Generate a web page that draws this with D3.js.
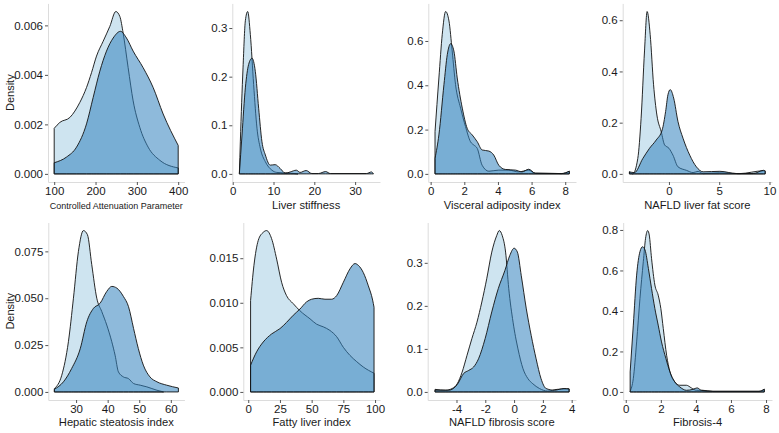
<!DOCTYPE html>
<html>
<head>
<meta charset="utf-8">
<script src="https://cdn.jsdelivr.net/npm/d3@7"></script>
<style>
  body { margin: 0; background: #fff; }
  text { font-family: "Liberation Sans", Arial, sans-serif; }
</style>
</head>
<body>
<div id="chart"></div>
<script>
// density curves, [x, density]; A = light group, B = dark group
var capA = [[100,0.00184],[113.7,0.00208],[137.9,0.00228],[162.1,0.00289],[178.2,0.00349],[190.3,0.00409],[202.4,0.00476],[218.5,0.00536],[234.6,0.00596],[249.1,0.00656],[258.8,0.00636],[266.8,0.00569],[278.9,0.00429],[291,0.00295],[307.1,0.00188],[327.3,0.00108],[355.5,0.00055],[400,0.00024]];
var capB = [[100,0.00045],[129.8,0.00068],[154,0.00108],[178.2,0.00202],[194.3,0.00309],[210.4,0.00415],[226.5,0.00496],[242.7,0.00549],[260.4,0.00576],[274.9,0.00549],[291,0.00496],[315.2,0.00429],[339.4,0.00349],[363.6,0.00242],[400,0.00115]];

var lsA = [[1.63,0],[1.87,0.066],[2.53,0.218],[3.1,0.315],[3.67,0.334],[4.32,0.287],[5.13,0.184],[5.95,0.094],[6.76,0.053],[8.0,0.025],[9.6,0.0076],[10.8,0.003],[14.1,0.0014],[16,0]];
var lsB = [[1.63,0],[2.28,0.08],[3.1,0.177],[3.9,0.225],[4.73,0.238],[5.54,0.211],[6.36,0.135],[7.17,0.066],[8.0,0.039],[9.2,0.018],[10.4,0.019],[11.65,0.011],[12.9,0.0014],[14.1,0.004],[15.6,0.0076],[16.5,0.003],[18,0.0069],[19.4,0.0007],[21,0.0007],[22.8,0.0048],[23.9,0.0007],[32.8,0.0007],[34,0.004],[34.5,0]];

var vaiA = [[0.26,0.191],[0.49,0.433],[0.69,0.63],[0.89,0.733],[1.09,0.69],[1.28,0.555],[1.48,0.403],[1.78,0.297],[2.07,0.214],[2.37,0.145],[2.57,0.13],[2.77,0.115],[3.06,0.039],[3.46,0.012],[4.05,0.017],[4.64,0.017],[5.23,0.009],[5.83,0.017],[6.2,0.003],[7.8,0.0015],[8.24,0.012]];
var vaiB = [[0.26,0.07],[0.49,0.176],[0.79,0.403],[0.99,0.539],[1.19,0.588],[1.38,0.555],[1.58,0.433],[1.88,0.297],[2.17,0.206],[2.47,0.176],[2.77,0.145],[3.06,0.108],[3.46,0.103],[3.75,0.085],[4.05,0.039],[4.44,0.02],[5.04,0.017],[5.43,0.009],[5.83,0.021],[6.22,0.003],[7.8,0.0015],[8.24,0.012]];

var lfsA = [[-3.93,0.008],[-3.6,0],[-3.1,0.06],[-2.77,0.217],[-2.43,0.48],[-2.17,0.634],[-1.87,0.545],[-1.53,0.348],[-1.2,0.23],[-0.77,0.165],[-0.43,0.113],[0,0.1],[0.4,0.073],[0.9,0.0275],[1.73,0.014],[2.4,0.005],[2.9,0.01],[3.4,0.001],[5,0.004],[7,0.001],[9.4,0.012],[9.57,0.01]];
var lfsB = [[-3.93,0.008],[-3.43,0.005],[-2.6,0.06],[-1.93,0.1],[-1.27,0.132],[-0.67,0.172],[-0.33,0.244],[-0.1,0.309],[0.13,0.329],[0.47,0.296],[0.9,0.204],[1.4,0.139],[2.07,0.073],[2.73,0.0275],[3.4,0.008],[5.07,0.01],[6.73,0.0013],[8.4,0.0013],[9.4,0.014],[9.57,0.012]];

var hsiA = [[23.14,0.0018],[25.46,0.0089],[27.57,0.0268],[29.16,0.05],[30.74,0.075],[32.32,0.0861],[33.59,0.0839],[34.96,0.0679],[36.55,0.05],[38.13,0.0429],[39.71,0.0357],[41.3,0.0268],[42.35,0.0196],[43.41,0.0107],[45,0.008],[46.6,0.0071],[48.2,0.0045],[50.3,0.0036],[52.4,0.0027],[55.6,0.0009],[57.7,0]];
var hsiB = [[23.1,0.0014],[26,0.0054],[28.6,0.0125],[31.3,0.023],[33.4,0.0375],[35.5,0.0446],[37.6,0.0473],[39.7,0.0536],[41.3,0.0563],[42.9,0.0554],[45,0.0509],[46.6,0.0455],[48.2,0.0339],[49.7,0.0232],[51.3,0.0143],[53.4,0.008],[55.6,0.0054],[58.7,0.0036],[62.4,0.0021]];

var fliA = [[1.84,0.01026],[4.5,0.0142],[7.9,0.017],[11.8,0.0179],[14.5,0.0181],[18.4,0.0172],[22.4,0.0149],[26.3,0.0123],[30.2,0.0108],[35.5,0.0099],[40.8,0.0091],[48.7,0.0082],[53.9,0.0076],[59.2,0.0073],[64.4,0.0069],[69.7,0.0062],[75,0.005],[80.2,0.0041],[85.5,0.0034],[90.7,0.0028],[99.2,0.0021]];
var fliB = [[1.84,0.003],[6.6,0.0045],[11.8,0.0056],[18.4,0.0065],[25,0.0071],[30.2,0.0078],[35.5,0.0086],[40.8,0.0093],[46,0.0101],[50,0.0104],[55.2,0.0105],[60.5,0.0104],[65.8,0.0104],[69.7,0.0108],[75,0.0123],[80.2,0.0138],[84.2,0.0144],[86.8,0.0142],[90.7,0.0134],[94.7,0.0119],[98.1,0.0103],[99.2,0.0095]];

var nfsA = [[-5.49,0.006],[-4.75,0.004],[-4.3,0.008],[-3.95,0.019],[-3.61,0.046],[-3.27,0.085],[-2.93,0.124],[-2.58,0.162],[-2.24,0.209],[-1.9,0.263],[-1.55,0.325],[-1.21,0.363],[-1.03,0.375],[-0.82,0.363],[-0.59,0.325],[-0.37,0.24],[-0.07,0.162],[0.27,0.1],[0.62,0.054],[0.96,0.031],[1.3,0.019],[1.76,0.008],[2.33,0.002],[3.0,0.006],[3.82,0.007]];
var nfsB = [[-5.49,0.004],[-4.53,0.004],[-3.95,0.017],[-3.5,0.043],[-3.15,0.05],[-2.81,0.058],[-2.47,0.077],[-2.01,0.124],[-1.55,0.186],[-1.1,0.24],[-0.64,0.282],[-0.3,0.317],[0,0.334],[0.23,0.325],[0.5,0.27],[0.85,0.193],[1.19,0.131],[1.53,0.077],[1.87,0.031],[2.22,0.008],[2.79,0.004],[3.47,0.008],[3.82,0.007]];

var fib4A = [[0.25,0.003],[0.43,0.066],[0.62,0.247],[0.81,0.462],[1.0,0.643],[1.13,0.759],[1.25,0.797],[1.34,0.775],[1.47,0.66],[1.66,0.528],[1.85,0.478],[2.0,0.412],[2.14,0.313],[2.33,0.181],[2.52,0.099],[2.8,0.049],[3.08,0.033],[3.46,0.033],[3.74,0.02],[4.03,0.008],[4.4,0.008],[4.97,0.003],[7.6,0.003],[7.9,0.013]];
var fib4B = [[0.25,0.099],[0.43,0.33],[0.62,0.577],[0.81,0.693],[0.96,0.717],[1.1,0.701],[1.29,0.61],[1.47,0.511],[1.66,0.412],[1.85,0.33],[2.04,0.247],[2.29,0.165],[2.52,0.099],[2.8,0.049],[3.08,0.025],[3.46,0.008],[3.84,0.013],[4.07,0.02],[4.31,0.008],[4.97,0.003],[7.6,0.003],[7.9,0.013]];

var titles = ["Controlled Attenuation Parameter", "Liver stiffness", "Visceral adiposity index", "NAFLD liver fat score",
              "Hepatic steatosis index", "Fatty liver index", "NAFLD fibrosis score", "Fibrosis-4"];
var seriesA = [capA, lsA, vaiA, lfsA, hsiA, fliA, nfsA, fib4A];
var seriesB = [capB, lsB, vaiB, lfsB, hsiB, fliB, nfsB, fib4B];
var xDomains = [[85, 415], [-0.1, 36.1], [-0.14, 8.64], [-4.6, 10.25], [21.2, 64.3], [-3.9, 103.9], [-6.0, 4.3], [-0.146, 8.34]];
var xTicks = [[100, 200, 300, 400], [0, 10, 20, 30], [0, 2, 4, 6, 8], [0, 5, 10], [30, 40, 50, 60], [0, 25, 50, 75, 100], [-4, -2, 0, 2, 4], [0, 2, 4, 6, 8]];
var yTicks = [[0, 0.002, 0.004, 0.006], [0, 0.1, 0.2, 0.3], [0, 0.2, 0.4, 0.6], [0, 0.2, 0.4, 0.6],
              [0, 0.025, 0.05, 0.075], [0, 0.005, 0.01, 0.015], [0, 0.1, 0.2, 0.3], [0, 0.2, 0.4, 0.6, 0.8]];
var yFormats = [".3f", ".1f", ".1f", ".1f", ".3f", ".3f", ".1f", ".1f"];

// layout (pixels)
var panelLeft = [48, 232.3, 428.3, 622.7, 48.3, 243.3, 427.7, 623.2];
var panelRight = [184.4, 380, 576, 772];
var rowTop = [3.4, 222.5];
var rowBottom = [182, 400];
var titleY = [209, 426];

var svg = d3.select("#chart").append("svg")
  .attr("width", 779)
  .attr("height", 433);

titles.forEach(function(title, i) {
  var row = Math.floor(i / 4), col = i % 4;
  var left = panelLeft[i], right = panelRight[col];
  var top = rowTop[row], bottom = rowBottom[row];

  var x = d3.scaleLinear().domain(xDomains[i]).range([left, right]);
  var ymax = d3.max(seriesA[i].concat(seriesB[i]), d => d[1]);
  var y = d3.scaleLinear().domain([-0.05 * ymax, 1.05 * ymax]).range([bottom, top]);

  var area = d3.area()
    .curve(d3.curveMonotoneX)
    .x(d => x(d[0]))
    .y0(y(0))
    .y1(d => y(d[1]));

  var g = svg.append("g");

  g.append("path")
    .datum(seriesA[i])
    .attr("d", area)
    .attr("fill", "#9ecae1")
    .attr("fill-opacity", 0.5)
    .attr("stroke", "#111")
    .attr("stroke-width", 0.9)
    .attr("stroke-linejoin", "round");

  g.append("path")
    .datum(seriesB[i])
    .attr("d", area)
    .attr("fill", "#3182bd")
    .attr("fill-opacity", 0.55)
    .attr("stroke", "#111")
    .attr("stroke-width", 0.9)
    .attr("stroke-linejoin", "round");

  var xAxis = g.append("g")
    .attr("transform", `translate(0, ${bottom})`)
    .call(d3.axisBottom(x).tickValues(xTicks[i]).tickFormat(d => String(d)).tickSize(3).tickSizeOuter(0).tickPadding(2));

  var yAxis = g.append("g")
    .attr("transform", `translate(${left}, 0)`)
    .call(d3.axisLeft(y).tickValues(yTicks[i]).tickFormat(d3.format(yFormats[i])).tickSize(3).tickSizeOuter(0).tickPadding(2));

  [xAxis, yAxis].forEach(function(ax) {
    ax.select(".domain").attr("stroke", "#dcdcdc").attr("stroke-width", 1);
    ax.selectAll(".tick line").attr("stroke", "#555");
    ax.selectAll(".tick text")
      .attr("fill", "#1a1a1a")
      .style("font-size", "11.5px")
      .style("font-family", "'Liberation Sans', Arial, sans-serif");
  });

  g.append("text")
    .attr("x", (left + right) / 2)
    .attr("y", titleY[row])
    .attr("text-anchor", "middle")
    .attr("fill", "#1a1a1a")
    .style("font-size", i == 0 ? "9px" : "11.2px")
    .text(title);

  if (col == 0) {
    g.append("text")
      .attr("transform", `translate(14, ${(top + bottom) / 2}) rotate(-90)`)
      .attr("text-anchor", "middle")
      .attr("fill", "#1a1a1a")
      .style("font-size", "11px")
      .text("Density");
  }
});
</script>
</body>
</html>
